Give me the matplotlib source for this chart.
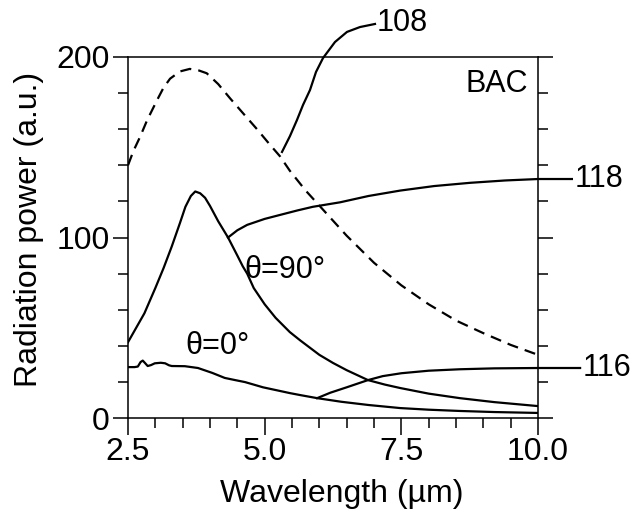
import matplotlib
matplotlib.use("Agg")
import matplotlib.pyplot as plt
from matplotlib.ticker import MultipleLocator

plt.rcParams['font.family'] = ['Liberation Sans', 'DejaVu Sans']

# Curve 108 (dashed)
wl_108 = [2.5, 2.6, 2.72, 2.85, 3.03, 3.15, 3.27, 3.45, 3.63, 3.8, 3.94, 4.15,
          4.37, 4.6, 4.86, 5.08, 5.28, 5.46, 5.75, 6.05, 6.5, 7.0, 7.5, 8.0,
          8.5, 9.0, 9.5, 10.0]
pw_108 = [140, 148, 155.7, 165, 176, 183, 188, 192, 193.4, 192.5, 191, 185,
          177, 169, 160, 152, 145, 137, 126, 116, 101, 86, 73.5, 63,
          54, 47, 40.5, 35]

# theta = 90 deg curve
wl_90 = [2.5, 2.65, 2.8, 3.0, 3.15, 3.3, 3.45, 3.55, 3.65, 3.73, 3.82, 3.91,
         4.0, 4.15, 4.33, 4.5, 4.6, 4.68, 4.8, 5.0, 5.2, 5.46, 5.65, 6.0,
         6.25, 6.5, 6.89, 7.2, 7.48, 8.0, 8.57, 9.2, 10.0]
pw_90 = [42, 50, 58, 72, 83, 95, 108, 117, 123, 125.5, 124.5, 122,
         117.5, 109, 100, 90, 84, 80, 72, 63, 55.5, 47.6, 43, 35,
         30.5, 26.5, 21, 18.5, 16.6, 13.5, 11, 8.8, 6.6]

# theta = 0 deg curve
wl_0 = [2.5, 2.62, 2.68, 2.73, 2.77, 2.81, 2.86, 2.92, 2.99, 3.1, 3.18, 3.25,
        3.30, 3.54, 3.78, 4.04, 4.27, 4.46, 4.64, 4.8, 4.97, 5.2, 5.46, 5.65,
        5.96, 6.4, 6.9, 7.48, 8.0, 8.57, 9.2, 10.0]
pw_0 = [28.2, 28.2, 28.5, 31, 31.8, 30.5, 28.8, 29.3, 30.3, 30.6, 30.3, 29.2,
        28.8, 28.7, 27.7, 25, 22.2, 21, 19.9, 18.5, 17, 15.5, 13.8, 12.7,
        11, 9, 7.2, 5.5, 4.6, 3.9, 3.3, 2.8]

# reference lines 118 and 116 (with their leaders past the axis)
wl_118 = [4.33, 4.5, 4.68, 5.0, 5.28, 5.6, 5.88, 6.38, 6.9, 7.48, 8.1, 8.76,
          9.4, 10.0, 10.62]
pw_118 = [100, 104, 107, 110.3, 112.5, 115, 117, 119.5, 123, 126, 128.5, 130.3,
          131.6, 132.4, 132.4]
wl_116 = [5.96, 6.2, 6.5, 6.89, 7.16, 7.5, 8.0, 8.57, 9.2, 10.0, 10.77]
pw_116 = [11, 14, 17, 21, 23.2, 24.8, 26.2, 27, 27.5, 27.7, 27.7]

# leader for 108
wl_lead = [5.317, 5.463, 5.591, 5.701, 5.829, 5.939, 6.067, 6.286, 6.506, 6.744, 7.018]
pw_lead = [147.4, 156.2, 165.1, 173.4, 181.7, 191.7, 199.4, 208.3, 213.9, 216.6, 218.3]

fig = plt.figure(figsize=(6.34, 5.12), dpi=100)
ax = fig.add_axes([128 / 634, 1 - 418 / 512, 410 / 634, 361 / 512])

ax.plot(wl_108, pw_108, color='black', lw=1.6, dashes=(5, 3.2))
ax.plot(wl_90, pw_90, color='black', lw=1.6)
ax.plot(wl_0, pw_0, color='black', lw=1.6)
ax.plot(wl_118, pw_118, color='black', lw=1.6, clip_on=False)
ax.plot(wl_116, pw_116, color='black', lw=1.6, clip_on=False)
ax.plot(wl_lead, pw_lead, color='black', lw=1.6, clip_on=False)

ax.set_xlim(2.5, 10.0)
ax.set_ylim(0, 200)
ax.xaxis.set_major_locator(MultipleLocator(2.5))
ax.xaxis.set_minor_locator(MultipleLocator(0.5))
ax.yaxis.set_major_locator(MultipleLocator(100))
ax.yaxis.set_minor_locator(MultipleLocator(20))
ax.xaxis.set_major_formatter(plt.FormatStrFormatter('%.1f'))

ax.tick_params(axis='both', which='both', direction='out', width=1.1, color='black')
ax.tick_params(axis='x', which='major', length=12, pad=2, labelsize=23)
ax.tick_params(axis='x', which='minor', length=7)
ax.tick_params(axis='y', which='major', length=11, pad=2, labelsize=23,
               right=True, labelright=False)
ax.tick_params(axis='y', which='minor', length=7, right=True)
for s in ax.spines.values():
    s.set_linewidth(1.1)

ax.set_xlabel('Wavelength (µm)', fontsize=23)
ax.set_ylabel('Radiation power (a.u.)', fontsize=23)
ax.xaxis.set_label_coords(0.522, -0.168)
ax.yaxis.set_label_coords(-0.206, 0.521)

ax.text(9.82, 185, 'BAC', fontsize=22, ha='right', va='center')
ax.text(4.62, 82, 'θ=90°', fontsize=22, ha='left', va='center')
ax.text(3.55, 40, 'θ=0°', fontsize=22, ha='left', va='center')
ax.text(7.04, 219, '108', fontsize=22, ha='left', va='center', clip_on=False)
ax.text(10.67, 132.4, '118', fontsize=22, ha='left', va='center', clip_on=False)
ax.text(10.81, 27.7, '116', fontsize=22, ha='left', va='center', clip_on=False)

fig.savefig('out.png', dpi=100)
